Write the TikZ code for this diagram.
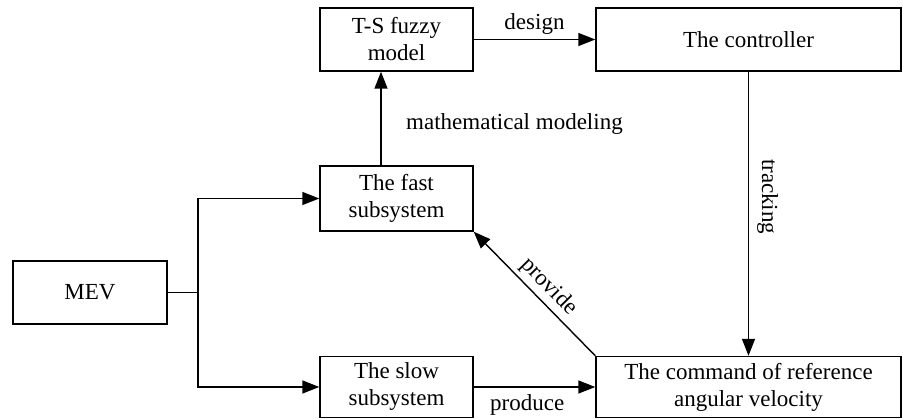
\documentclass[tikz,border=0pt]{standalone}
\usepackage{fontspec}
\setmainfont{Liberation Serif}
\usetikzlibrary{arrows.meta,calc}
\begin{document}
\begin{tikzpicture}[x=1pt,y=-1pt,
  blk/.style={draw,line width=1.4pt,inner sep=0pt,align=center,font=\fontsize{23}{27}\selectfont},
  arr/.style={line width=1.4pt,-{Triangle[length=17pt,width=13pt]}},
  lbl/.style={font=\fontsize{23}{27}\selectfont,inner sep=2pt}]
\useasboundingbox (0,0) rectangle (903,419);
\node[blk,minimum width=153pt,minimum height=63pt] (ts) at (396.5,39.5) {T-S fuzzy\\model};
\node[blk,minimum width=305pt,minimum height=63pt] (ctrl) at (748.5,39.5) {The controller};
\node[blk,minimum width=153pt,minimum height=65pt] (fast) at (396.5,198.5) {The fast\\subsystem};
\node[blk,minimum width=154pt,minimum height=63pt] (mev) at (90,292.5) {MEV};
\node[blk,minimum width=153pt,minimum height=61pt] (slow) at (396.5,387) {The slow\\subsystem};
\node[blk,minimum width=305pt,minimum height=61pt] (cmd) at (748.5,387) {The command of reference\\angular velocity};
\coordinate (br) at (198,292.5);
\draw[line width=1.4pt] (mev.east) -- (br);
\draw[arr] (br) |- (fast.west);
\draw[arr] (br) |- (slow.west);
\draw[arr] ([xshift=-15.5pt]fast.north) -- ([xshift=-15.5pt]ts.south);
\draw[arr] (ts.east) -- node[lbl,above=2pt] {design} (ctrl.west);
\draw[arr] (ctrl.south) -- node[lbl,rotate=-90,pos=0.44,above=6pt,anchor=south] {tracking} (cmd.north);
\draw[arr] (slow.east) -- node[lbl,below=5pt,pos=0.44] {produce} (cmd.west);
\draw[arr] (cmd.north west) -- node[lbl,sloped,above=2pt,pos=0.47] {provide} (fast.south east);
\node[lbl,anchor=west] (mm) at (404,124) {mathematical modeling};
\end{tikzpicture}
\end{document}
